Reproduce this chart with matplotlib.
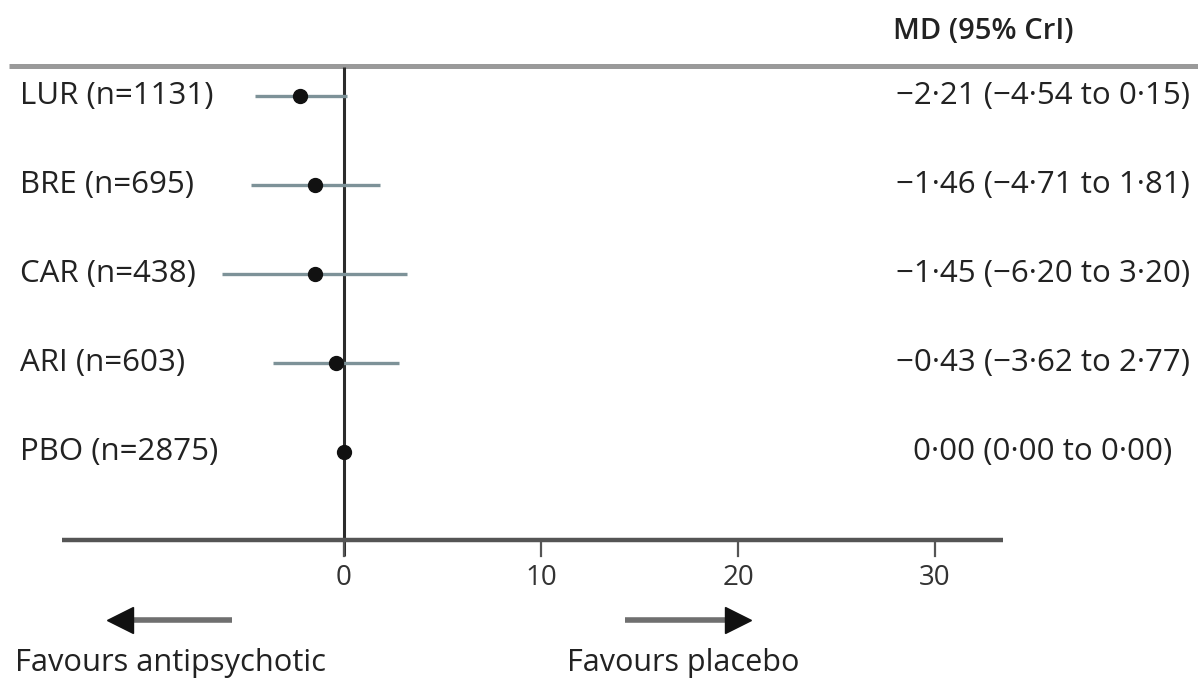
import matplotlib
matplotlib.use("Agg")
import matplotlib.pyplot as plt

plt.rcParams['font.family'] = ['Open Sans', 'DejaVu Sans']

labels = ["LUR (n=1131)", "BRE (n=695)", "CAR (n=438)", "ARI (n=603)", "PBO (n=2875)"]
md = [-2.21, -1.46, -1.45, -0.43, 0.00]
lo = [-4.54, -4.71, -6.20, -3.62, 0.00]
hi = [0.15, 1.81, 3.20, 2.77, 0.00]
xticks = [0, 10, 20, 30]

W, H = 1198, 682
fig = plt.figure(figsize=(W / 100, H / 100), dpi=100)
ax = fig.add_axes([0, 0, 1, 1])
ax.axis("off")

# pixel -> data mapping (layout only)
PX0, PXU = 344, 19.7      # x pixel of 0 and pixels per unit
PY0, PYU = 96, 89         # y pixel of first row and pixels per row
def X(p): return (p - PX0) / PXU
def Y(p): return (p - PY0) / PYU

ax.set_xlim(X(0), X(W))
ax.set_ylim(Y(H), Y(0))

def fmt(v):
    return f"{v:.2f}".replace(".", "·").replace("-", "−")

TXT = "#222222"

# header rule
ax.plot([X(9), X(W)], [Y(66), Y(66)], color="#9a9a9a", lw=3.6, solid_capstyle="butt")
ax.text(X(893), Y(31), "MD (95% CrI)", fontsize=21, fontweight="semibold",
        va="center", ha="left", color=TXT)

# zero line
ax.plot([0, 0], [Y(67), Y(556)], color="#2b2b2b", lw=2.2, solid_capstyle="butt", zorder=2)

rows = list(range(len(labels)))
for i in rows:
    if hi[i] > lo[i]:
        ax.plot([lo[i], hi[i]], [i, i], color="#7d9298", lw=2.4, solid_capstyle="butt", zorder=3)
    ax.plot(md[i], i, "o", color="#111111", ms=10, zorder=4)
    ax.text(X(20), i, labels[i], fontsize=22.5, va="center", ha="left", color=TXT)
    ax.text(X(1043), i,
            f"{fmt(md[i])} ({fmt(lo[i])} to {fmt(hi[i])})",
            fontsize=22.5, va="center", ha="center", color=TXT)

# bottom axis
ax.plot([X(62), X(1003)], [Y(540), Y(540)], color="#555555", lw=3.2, solid_capstyle="butt")
for t in xticks:
    ax.plot([t, t], [Y(540), Y(556)], color="#555555", lw=1.6)
    ax.text(t, Y(578), str(t), fontsize=20, ha="center", va="center", color="#333333")

# direction arrows: grey shaft, black head
ay = Y(620)
ax.plot([X(126), X(232)], [ay, ay], color="#6f6f6f", lw=4, solid_capstyle="butt")
ax.plot(X(120), ay, marker="<", ms=19, color="#111111", mec="#111111")
ax.plot([X(625), X(732)], [ay, ay], color="#6f6f6f", lw=4, solid_capstyle="butt")
ax.plot(X(738), ay, marker=">", ms=19, color="#111111", mec="#111111")

ax.text(X(15), Y(663), "Favours antipsychotic", fontsize=22.2, ha="left", va="center", color=TXT)
ax.text(X(567), Y(663), "Favours placebo", fontsize=22, ha="left", va="center", color=TXT)

fig.savefig("out.png", dpi=100)
